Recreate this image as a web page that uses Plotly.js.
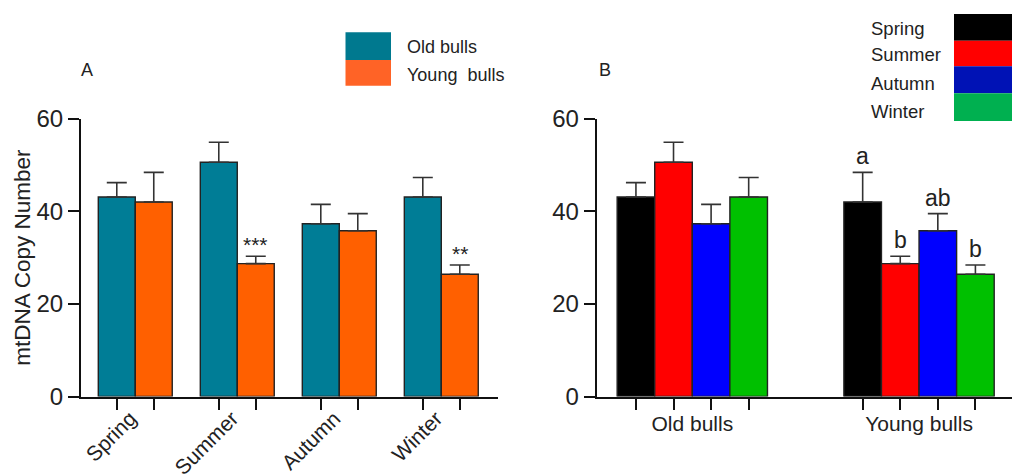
<!DOCTYPE html>
<html><head><meta charset="utf-8">
<script src="https://cdn.plot.ly/plotly-3.0.1.min.js"></script>
<style>html,body{margin:0;padding:0;background:#fff}#chart{width:1012px;height:475px}</style>
</head><body><div id="chart"></div>
<script>
// ---- data ----
const seasons = ['Spring', 'Summer', 'Autumn', 'Winter'];
const groups = ['Old bulls', 'Young bulls'];
const legendGroupText = ['Old bulls', 'Young\u00a0 bulls'];
const oldMean = [43.1, 50.6, 37.3, 43.1];
const oldErr = [3.1, 4.3, 4.2, 4.2];
const youngMean = [42.0, 28.7, 35.8, 26.4];
const youngErr = [6.4, 1.6, 3.7, 2.0];
const sigYoungA = ['', '***', '', '**'];
const lettersYoungB = ['a', 'b', 'ab', 'b'];
const yTicks = [0, 20, 40, 60];

// ---- styles ----
const FONT = 'Liberation Sans, Arial, sans-serif';
const TXT = '#222';
const colA = ['#007D96', '#FF6000'];
const colALegend = ['#00798F', '#FF6326'];
const colB = ['#000000', '#FF0000', '#0000FF', '#00C000'];
const colBLegend = ['#000000', '#FF0000', '#0012B5', '#00B050'];
const W = 1012, H = 475;
const px = x => x / W, py = y => 1 - y / H;

const gapA = 0.275, gapB = 0.337;
const wA = (1 - gapA) / 2, wB = (1 - gapB) / 4;
const offs = (n, w) => Array.from({length: n}, (_, i) => (i - (n - 1) / 2) * w);
const offA = offs(2, wA), offB = offs(4, wB);
const idxA = seasons.map((_, i) => i);
const idxB = groups.map((_, i) => i);

const errStyle = (arr) => ({type: 'data', symmetric: false, array: arr, arrayminus: arr.map(() => 0),
  color: '#333', thickness: 1.6, width: 10, visible: true});
const barLine = {color: '#222', width: 1.4};

const traces = [];
[oldMean, youngMean].forEach((m, j) => {
  const e = j === 0 ? oldErr : youngErr;
  traces.push({type: 'bar', x: idxA, y: m, name: groups[j], width: wA, offset: offA[j] - wA / 2,
    marker: {color: colA[j], line: barLine}, error_y: errStyle(e), xaxis: 'x', yaxis: 'y', showlegend: false});
});
seasons.forEach((s, i) => {
  traces.push({type: 'bar', x: idxB, y: [oldMean[i], youngMean[i]], name: s, width: wB, offset: offB[i] - wB / 2,
    marker: {color: colB[i], line: barLine},
    error_y: errStyle([oldErr[i], youngErr[i]]), xaxis: 'x2', yaxis: 'y2', showlegend: false});
});
// invisible carriers for the category-label axes
traces.push({type: 'scatter', mode: 'none', x: idxA, y: idxA.map(() => 0), xaxis: 'x3', yaxis: 'y', hoverinfo: 'skip', showlegend: false});
traces.push({type: 'scatter', mode: 'none', x: idxB, y: idxB.map(() => 0), xaxis: 'x4', yaxis: 'y2', hoverinfo: 'skip', showlegend: false});

// tick positions under each bar
const tickA = [], tickB = [];
idxA.forEach(i => offA.forEach(o => tickA.push(i + o)));
idxB.forEach(i => offB.forEach(o => tickB.push(i + o)));

const yDom = [py(396.5), py(118.7)];
const rangeA = [-0.532, 3.556], rangeB = [-0.4217, 1.41];

const yAxis = (extra) => Object.assign({domain: yDom, range: [0, 60], tickvals: yTicks, ticktext: yTicks.map(String),
  tickmode: 'array', ticks: 'outside', ticklen: 11, tickwidth: 2, tickcolor: '#111', showline: true, linewidth: 2,
  linecolor: '#111', showgrid: false, zeroline: false, tickfont: {family: FONT, size: 24, color: TXT}}, extra);
const xBase = (dom, rng, tv) => ({domain: dom, range: rng, tickmode: 'array', tickvals: tv, ticktext: tv.map(() => ''),
  ticks: 'outside', ticklen: 11, tickwidth: 2, tickcolor: '#111', showline: true, linewidth: 2, linecolor: '#111',
  showgrid: false, zeroline: false, fixedrange: true});
const labelAxis = (over, anchor, rng, tv, tt, angle, len, size, shift) => ({overlaying: over, anchor: anchor, side: 'bottom',
  range: rng, tickmode: 'array', tickvals: tv, ticktext: tt, tickangle: angle, ticks: 'outside', ticklen: len,
  ticklabelshift: shift, tickcolor: 'rgba(0,0,0,0)', showline: false, showgrid: false, zeroline: false,
  tickfont: {family: FONT, size: size, color: TXT}});

const annotations = [];
sigYoungA.forEach((t, i) => {
  if (t) annotations.push({x: i + offA[1], y: youngMean[i] + youngErr[i], xref: 'x', yref: 'y', text: t,
    showarrow: false, xanchor: 'center', yanchor: 'bottom', yshift: -2, font: {family: FONT, size: 21, color: TXT}});
});
lettersYoungB.forEach((t, i) => {
  annotations.push({x: 1 + offB[i], y: youngMean[i] + youngErr[i], xref: 'x2', yref: 'y2', text: t,
    showarrow: false, xanchor: 'center', yanchor: 'bottom', yshift: 1, font: {family: FONT, size: 23, color: TXT}});
});
const panelLabel = (t, x, y) => ({x: px(x), y: py(y), xref: 'paper', yref: 'paper', text: t, showarrow: false,
  xanchor: 'center', yanchor: 'middle', font: {family: FONT, size: 18, color: TXT}});
annotations.push(panelLabel('A', 86.5, 70));
annotations.push(panelLabel('B', 604.5, 70));

// legends (drawn as boxes + text)
const shapes = [];
const legA = [[32.3, 60], [60, 85.7]];
legendGroupText.forEach((g, i) => {
  shapes.push({type: 'rect', xref: 'paper', yref: 'paper', x0: px(345.5), x1: px(391), y0: py(legA[i][0]), y1: py(legA[i][1]),
    fillcolor: colALegend[i], line: {width: 0}});
  annotations.push({x: px(405), y: py(i === 0 ? 47.3 : 75), xref: 'paper', yref: 'paper', text: g,
    xanchor: 'left', yanchor: 'middle', showarrow: false, font: {family: FONT, size: 18, color: TXT}});
});
const legB = [[14, 40.7], [40.7, 66.3], [66.3, 93.3], [93.3, 121]];
const legBText = [28.3, 54.3, 83.3, 111.7];
seasons.forEach((s, i) => {
  shapes.push({type: 'rect', xref: 'paper', yref: 'paper', x0: px(954), x1: px(1013), y0: py(legB[i][0]), y1: py(legB[i][1]),
    fillcolor: colBLegend[i], line: {width: 0}});
  annotations.push({x: px(869), y: py(legBText[i]), xref: 'paper', yref: 'paper', text: s,
    xanchor: 'left', yanchor: 'middle', showarrow: false, font: {family: FONT, size: 18.5, color: TXT}});
});

const layout = {
  width: W, height: H, margin: {l: 0, r: 0, t: 0, b: 0}, paper_bgcolor: '#fff', plot_bgcolor: 'rgba(0,0,0,0)',
  barmode: 'overlay', showlegend: false, font: {family: FONT, color: TXT},
  xaxis: xBase([px(81), px(498)], rangeA, tickA),
  xaxis3: labelAxis('x', 'y', rangeA, idxA, seasons, -45, 0.5, 21, -5),
  yaxis: yAxis({anchor: 'x', title: {text: 'mtDNA Copy Number', font: {family: FONT, size: 22.5, color: TXT}, standoff: 0}}),
  xaxis2: Object.assign(xBase([px(596.7), 1], rangeB, tickB), {anchor: 'y2'}),
  xaxis4: labelAxis('x2', 'y2', rangeB, idxB, groups, 0, 8, 21, 0),
  yaxis2: yAxis({anchor: 'x2'}),
  annotations: annotations, shapes: shapes
};
Plotly.newPlot('chart', traces, layout, {displayModeBar: false, staticPlot: true});
</script></body></html>
